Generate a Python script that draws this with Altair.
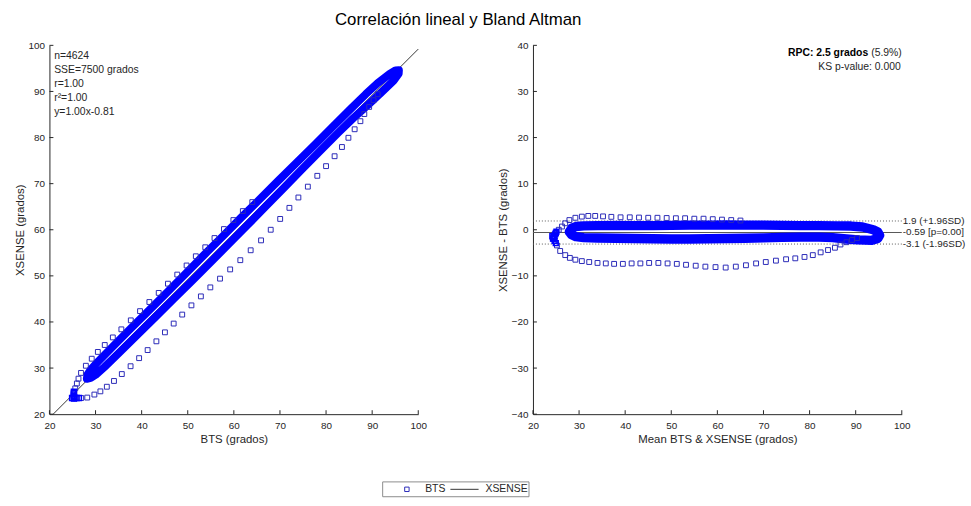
import altair as alt
import pandas as pd

FONT = "Liberation Sans"
AX = "#262626"
BLUE = "#0000ff"
TRAIL = "#2a2ab8"
W = 373
H = 373

# ---------------- data ----------------
# dense hysteresis band, traced as a closed loop (Bland-Altman coords: mean, diff)
band_mean = [27.9, 28.4, 29.3, 31.0, 34.0, 38.0, 42.0, 46.0, 50.0, 54.0, 58.0, 62.0, 66.0, 70.0, 74.0,
             78.0, 82.0, 86.0, 89.0, 91.5, 93.8, 94.8, 95.2, 94.8, 93.5, 90.5, 88.0, 85.0, 82.0, 78.0,
             74.0, 70.0, 66.0, 62.0, 58.0, 54.0, 50.0, 46.0, 42.0, 38.0, 34.0, 31.0, 29.3, 28.4, 27.9]
band_diff = [-0.45, 0.35, 0.7, 0.85, 0.9, 0.95, 0.9, 0.9, 0.95, 1.0, 1.0, 1.05, 1.0, 1.0, 0.95,
             0.9, 0.9, 0.85, 0.8, 0.6, 0.0, -0.5, -1.2, -1.9, -2.3, -2.2, -2.0, -1.7, -1.6, -1.6,
             -1.65, -1.75, -1.85, -1.9, -1.95, -2.0, -2.0, -1.95, -1.9, -1.85, -1.8, -1.7, -1.5, -1.1, -0.45]

# isolated samples below the band (lower trail)
low_mean = [24.6, 25.2, 25.9, 27.0, 28.0, 29.2, 30.6, 32.2, 34.0, 35.8, 37.6, 39.5, 41.4, 43.3, 45.2,
            47.2, 49.2, 51.2, 53.2, 55.3, 57.4, 59.6, 61.8, 64.0, 66.2, 68.4, 70.5, 72.7, 74.9, 76.9,
            78.9, 80.7, 82.4, 84.0, 85.5, 86.7, 88.0, 89.2, 90.3]
low_diff = [-2.0, -3.4, -4.6, -5.5, -6.1, -6.5, -6.8, -7.0, -7.2, -7.3, -7.4, -7.4, -7.3, -7.3, -7.2,
            -7.2, -7.3, -7.4, -7.6, -7.8, -8.0, -8.1, -8.2, -8.0, -7.7, -7.3, -7.0, -6.7, -6.4, -6.2,
            -5.9, -5.5, -4.9, -4.4, -3.9, -3.2, -2.7, -2.2, -1.8]

# isolated samples above the band (upper trail)
up_mean = [25.0, 25.6, 26.3, 27.0, 27.9, 29.2, 30.6, 32.0, 33.5, 35.2, 37.0, 39.0, 41.0, 43.0, 45.0,
           47.0, 49.0, 51.0, 53.0, 55.0, 57.0, 59.0, 61.0, 63.0, 65.0]
up_diff = [-0.8, 0.0, 0.7, 1.4, 2.1, 2.6, 2.85, 3.0, 3.0, 2.9, 2.8, 2.7, 2.7, 2.65, 2.6,
           2.6, 2.55, 2.5, 2.5, 2.4, 2.4, 2.3, 2.2, 2.1, 2.0]

# cluster at the start of the trials (low angles)
tip_mean = [24.35, 24.5, 24.65, 24.8, 24.95, 25.1, 24.2, 24.45, 24.7, 24.95]
tip_diff = [-1.9, -1.6, -1.3, -1.0, -0.7, -0.4, -1.4, -1.9, -2.4, -2.9]

ticks_x = [20, 30, 40, 50, 60, 70, 80, 90, 100]
ticks_ba = [-40, -30, -20, -10, 0, 10, 20, 30, 40]

fit_x = [20.81, 100.0]
fit_slope = 1.00
fit_intercept = -0.81

stats_lines = ["n=4624", "SSE=7500 grados", "r=1.00", "r\u00b2=1.00", "y=1.00x-0.81"]

ba_values = [1.9, -0.59, -3.1]
ba_labels = ["1.9 (+1.96SD)", "-0.59 [p=0.00]", "-3.1 (-1.96SD)"]
rpc_bold = "RPC: 2.5 grados"
rpc_pct = "(5.9%)"
ks_text = "KS p-value: 0.000"
legend_labels = ["BTS", "XSENSE"]
title_text = "Correlaci\u00f3n lineal y Bland Altman"

# ---------------- tables ----------------
band_df = pd.DataFrame({"i": list(range(len(band_mean))), "m": band_mean, "d": band_diff})
trail_df = pd.DataFrame({"m": low_mean + up_mean, "d": low_diff + up_diff})
tip_df = pd.DataFrame({"m": tip_mean, "d": tip_diff})
tick_x_df = pd.DataFrame({"v": ticks_x})
tick_ba_df = pd.DataFrame({"v": ticks_ba})
fit_df = pd.DataFrame({"fx": fit_x})
ba_df = pd.DataFrame({"v": ba_values, "label": ba_labels, "k": ["hi", "mean", "lo"]})
legend_df = pd.DataFrame({"label": legend_labels})
one = pd.DataFrame({"k": [0]})

calc = dict(bts="datum.m - datum.d/2", xs="datum.m + datum.d/2")

axis_style = dict(grid=False, ticks=False, domainColor=AX, domainWidth=1, labelColor=AX,
                  labelFont=FONT, labelFontSize=10, labelFlush=False, labelOverlap=False,
                  titleColor=AX, titleFont=FONT, titleFontSize=11.5, titleFontWeight="normal")


def X(field, title):
    return alt.X(f"{field}:Q", scale=alt.Scale(domain=[20, 100], nice=False, zero=False),
                 axis=alt.Axis(values=ticks_x, title=title, labelPadding=6, titlePadding=4, **axis_style))


def Y(field, title, dom, vals):
    return alt.Y(f"{field}:Q", scale=alt.Scale(domain=dom, nice=False, zero=False),
                 axis=alt.Axis(values=vals, title=title, labelPadding=5, titlePadding=3, **axis_style))


# ---------------- left: correlation ----------------
LX, LY = "BTS (grados)", "XSENSE (grados)"
LD = [20, 100]

fit_layer = alt.Chart(fit_df).transform_calculate(
    fy=f"{fit_slope}*datum.fx + ({fit_intercept})"
).mark_line(color="black", strokeWidth=0.8).encode(x=X("fx", LX), y=Y("fy", LY, LD, ticks_x))

band_left = alt.Chart(band_df).transform_calculate(**calc).mark_line(
    color=BLUE, strokeWidth=8, strokeCap="round", strokeJoin="round"
).encode(x=X("bts", LX), y=Y("xs", LY, LD, ticks_x), order="i:Q")

trail_left = alt.Chart(trail_df).transform_calculate(**calc).mark_point(
    shape="square", filled=False, size=24, color=TRAIL, strokeWidth=1, opacity=1
).encode(x=X("bts", LX), y=Y("xs", LY, LD, ticks_x))

tip_left = alt.Chart(tip_df).transform_calculate(**calc).mark_point(
    shape="square", filled=False, size=24, color=BLUE, strokeWidth=1.5, opacity=1
).encode(x=X("bts", LX), y=Y("xs", LY, LD, ticks_x))

xt_left = alt.Chart(tick_x_df).mark_rule(color=AX, strokeWidth=1).encode(
    x=X("v", LX), y=alt.value(H), y2=alt.value(H - 4))
yt_left = alt.Chart(tick_x_df).mark_rule(color=AX, strokeWidth=1).encode(
    y=Y("v", LY, LD, ticks_x), x=alt.value(0), x2=alt.value(4))

stats_text = alt.Chart(one).mark_text(
    text=stats_lines, align="left", baseline="top", lineHeight=14, font=FONT, fontSize=10.5, color=AX
).encode(x=alt.value(4.8), y=alt.value(6.3))

# legend (drawn below the panels)
leg_box = alt.Chart(one).mark_rect(fill="white", stroke="#8c8c8c", strokeWidth=1).encode(
    x=alt.value(337), x2=alt.value(485), y=alt.value(441.5), y2=alt.value(456.5))
leg_sq = alt.Chart(legend_df).transform_filter(alt.datum.label == legend_labels[0]).mark_point(
    shape="square", filled=False, size=20, color=TRAIL, strokeWidth=1, opacity=1
).encode(x=alt.value(361.5), y=alt.value(449))
leg_line = alt.Chart(legend_df).transform_filter(alt.datum.label == legend_labels[1]).mark_rule(
    color="black", strokeWidth=0.8
).encode(x=alt.value(405.5), x2=alt.value(434), y=alt.value(449))
leg_t1 = alt.Chart(legend_df).transform_filter(alt.datum.label == legend_labels[0]).mark_text(
    align="left", baseline="middle", font=FONT, fontSize=10.5, color=AX
).encode(x=alt.value(380), y=alt.value(449), text="label:N")
leg_t2 = alt.Chart(legend_df).transform_filter(alt.datum.label == legend_labels[1]).mark_text(
    align="left", baseline="middle", font=FONT, fontSize=10.5, color=AX
).encode(x=alt.value(441), y=alt.value(449), text="label:N")

left = alt.layer(
    fit_layer, band_left, trail_left, tip_left, xt_left, yt_left, stats_text,
    leg_box, leg_sq, leg_line, leg_t1, leg_t2
).properties(width=W, height=H)

# ---------------- right: Bland-Altman ----------------
RX, RY = "Mean BTS & XSENSE (grados)", "XSENSE - BTS (grados)"
RD = [-40, 40]

mean_rule = alt.Chart(ba_df).transform_filter(alt.datum.k == "mean").mark_rule(
    color="#595959", strokeWidth=1.2
).encode(y=Y("v", RY, RD, ticks_ba), x=alt.value(0), x2=alt.value(W))
lim_rule = alt.Chart(ba_df).transform_filter(alt.datum.k != "mean").mark_rule(
    color="#595959", strokeWidth=1, strokeDash=[1, 2]
).encode(y=Y("v", RY, RD, ticks_ba), x=alt.value(0), x2=alt.value(W))
ba_text = alt.Chart(ba_df).mark_text(
    align="left", baseline="middle", dx=1, font=FONT, fontSize=10, color=AX
).encode(y=Y("v", RY, RD, ticks_ba), x=alt.value(W), text="label:N")

band_right = alt.Chart(band_df).mark_line(
    color=BLUE, strokeWidth=9.5, strokeCap="round", strokeJoin="round"
).encode(x=X("m", RX), y=Y("d", RY, RD, ticks_ba), order="i:Q")
trail_right = alt.Chart(trail_df).mark_point(
    shape="square", filled=False, size=24, color=TRAIL, strokeWidth=1, opacity=1
).encode(x=X("m", RX), y=Y("d", RY, RD, ticks_ba))
tip_right = alt.Chart(tip_df).mark_point(
    shape="square", filled=False, size=24, color=BLUE, strokeWidth=1.5, opacity=1
).encode(x=X("m", RX), y=Y("d", RY, RD, ticks_ba))

xt_right = alt.Chart(tick_x_df).mark_rule(color=AX, strokeWidth=1).encode(
    x=X("v", RX), y=alt.value(H), y2=alt.value(H - 4))
yt_right = alt.Chart(tick_ba_df).mark_rule(color=AX, strokeWidth=1).encode(
    y=Y("v", RY, RD, ticks_ba), x=alt.value(0), x2=alt.value(4))

rpc_b = alt.Chart(one).mark_text(
    text=rpc_bold, align="right", baseline="middle", dx=-34, font=FONT, fontSize=10.5,
    fontWeight="bold", color="black"
).encode(x=alt.value(W), y=alt.value(8.2))
rpc_p = alt.Chart(one).mark_text(
    text=rpc_pct, align="right", baseline="middle", font=FONT, fontSize=10.5, color=AX
).encode(x=alt.value(W), y=alt.value(8.2))
ks = alt.Chart(one).mark_text(
    text=ks_text, align="right", baseline="middle", font=FONT, fontSize=10.5, color=AX
).encode(x=alt.value(W - 1), y=alt.value(21.5))

right = alt.layer(
    mean_rule, lim_rule, band_right, trail_right, tip_right, xt_right, yt_right,
    ba_text, rpc_b, rpc_p, ks
).properties(width=W, height=H)

chart = alt.hconcat(left, right, spacing=116, bounds="flush").properties(
    title=alt.TitleParams(text=title_text, font=FONT, fontSize=17, fontWeight="normal",
                          color="black", anchor="middle", dx=-32, offset=12),
    padding={"left": 14, "top": 8, "right": 5, "bottom": 5},
    background="white",
).configure_view(stroke=None)

chart.save("out.html", embed_options={"renderer": "svg", "actions": False})
